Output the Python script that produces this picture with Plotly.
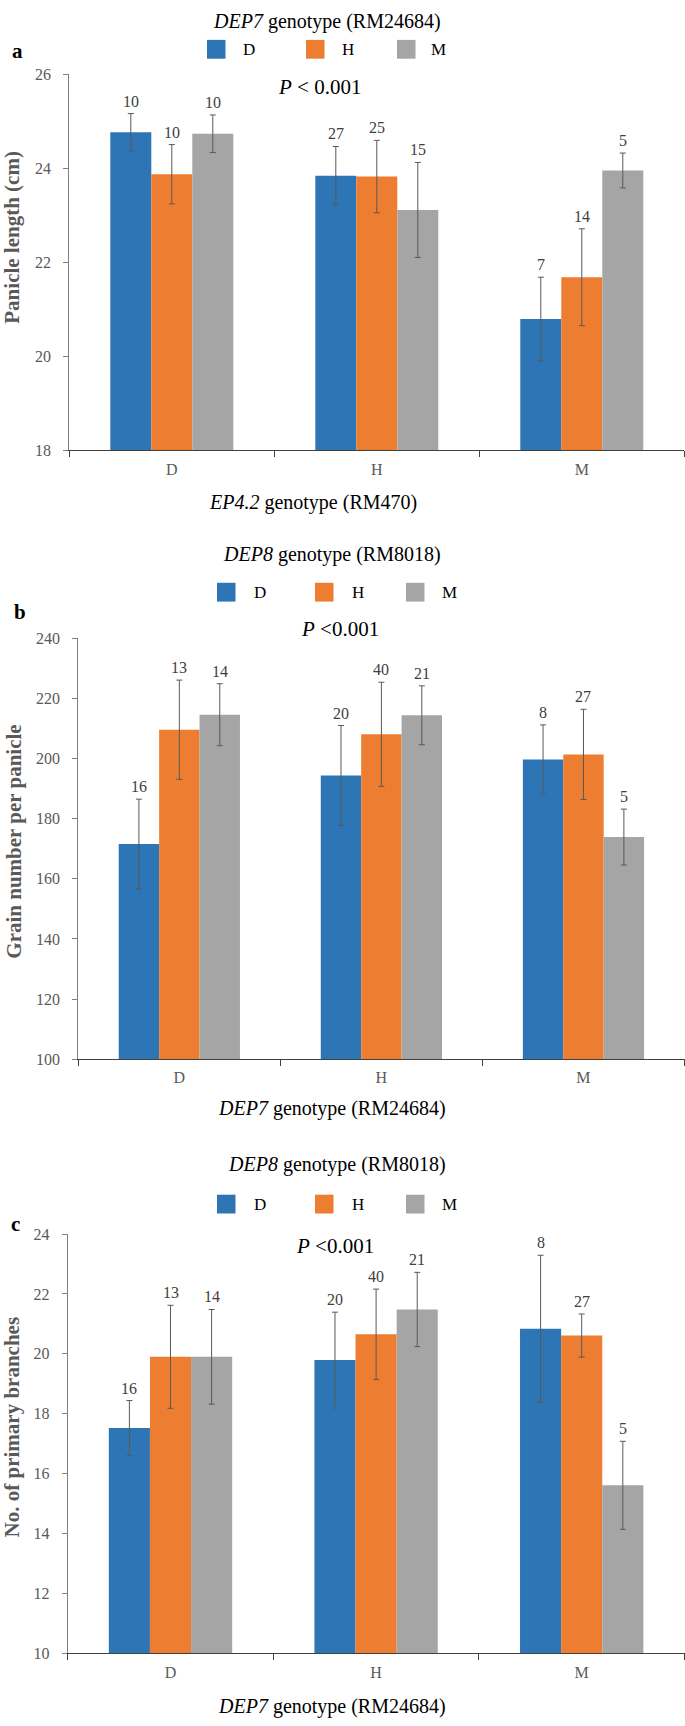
import plotly.graph_objects as go

W, H = 685, 1726
FONT = "Liberation Serif"

categories = ["D", "H", "M"]
series_names = ["D", "H", "M"]
colors = ["#2E75B6", "#ED7D31", "#A5A5A5"]

# Panel a: Panicle length (cm), by EP4.2 genotype (x) and DEP7 genotype (series)
a_D = [24.76, 23.84, 20.79]
a_H = [23.87, 23.82, 21.68]
a_M = [24.73, 23.11, 23.95]
a_D_err = [0.40, 0.62, 0.89]
a_H_err = [0.63, 0.77, 1.03]
a_M_err = [0.40, 1.01, 0.37]
a_D_n = [10, 27, 7]
a_H_n = [10, 25, 14]
a_M_n = [10, 15, 5]

# Panel b: Grain number per panicle, by DEP7 genotype (x) and DEP8 genotype (series)
b_D = [171.6, 194.4, 199.7]
b_H = [209.6, 208.1, 201.4]
b_M = [214.6, 214.4, 173.9]
b_D_err = [14.9, 16.6, 11.5]
b_H_err = [16.5, 17.3, 15.0]
b_M_err = [10.3, 9.8, 9.3]
b_D_n = [16, 20, 8]
b_H_n = [13, 40, 27]
b_M_n = [14, 21, 5]

# Panel c: No. of primary branches, by DEP7 genotype (x) and DEP8 genotype (series)
c_D = [17.52, 19.79, 20.84]
c_H = [19.90, 20.65, 20.61]
c_M = [19.90, 21.48, 15.61]
c_D_err = [0.92, 1.60, 2.45]
c_H_err = [1.72, 1.51, 0.72]
c_M_err = [1.58, 1.24, 1.47]
c_D_n = [16, 20, 8]
c_H_n = [13, 40, 27]
c_M_n = [14, 21, 5]


def fx(x):
    return x / W


def fy(y):
    return 1 - y / H


panels = [
    dict(sfx="", means=[a_D, a_H, a_M], errs=[a_D_err, a_H_err, a_M_err], ns=[a_D_n, a_H_n, a_M_n],
         xd=(69.3, 684.3), yd=(66.7, 446.7), yr=[18, 26], dt=2,
         ytitle="Panicle length (cm)", yt_pos=(12, 232),
         title="<i>DEP7</i> genotype (RM24684)", t_pos=(327, 13.3),
         leg_y=41.7, leg_sq=[207, 306, 397], leg_tx=[249, 347.5, 438.5],
         letter="a", l_pos=(17, 43), p_text="<i>P</i> < 0.001", p_pos=(319, 80),
         xtitle="<i>EP4.2</i> genotype (RM470)", xt_pos=(313, 499)),
    dict(sfx="2", means=[b_D, b_H, b_M], errs=[b_D_err, b_H_err, b_M_err], ns=[b_D_n, b_H_n, b_M_n],
         xd=(78.3, 684.5), yd=(636.6, 1061.7), yr=[100, 240], dt=20,
         ytitle="Grain number per panicle", yt_pos=(14, 842),
         title="<i>DEP8</i> genotype (RM8018)", t_pos=(332, 551.7),
         leg_y=590, leg_sq=[217, 315, 406], leg_tx=[260, 358, 449],
         letter="b", l_pos=(20, 610), p_text="<i>P</i> <0.001", p_pos=(340, 626.7),
         xtitle="<i>DEP7</i> genotype (RM24684)", xt_pos=(332, 1111.7)),
    dict(sfx="3", means=[c_D, c_H, c_M], errs=[c_D_err, c_H_err, c_M_err], ns=[c_D_n, c_H_n, c_M_n],
         xd=(67.7, 684.5), yd=(1238.2, 1661.7), yr=[10, 24], dt=2,
         ytitle="No. of primary branches", yt_pos=(11.5, 1434),
         title="<i>DEP8</i> genotype (RM8018)", t_pos=(337, 1168.3),
         leg_y=1208, leg_sq=[217, 315, 406], leg_tx=[260, 358, 449],
         letter="c", l_pos=(15, 1228), p_text="<i>P</i> <0.001", p_pos=(335, 1250),
         xtitle="<i>DEP7</i> genotype (RM24684)", xt_pos=(332, 1715)),
]

fig = go.Figure()
annotations = []
shapes = []
layout_axes = {}

for p in panels:
    s = p["sfx"]
    xa, ya = "x" + s, "y" + s
    for j in range(3):
        fig.add_trace(go.Bar(
            x=categories, y=p["means"][j], name=series_names[j],
            marker=dict(color=colors[j], line=dict(width=0)),
            error_y=dict(type="data", array=p["errs"][j], color="#595959", thickness=1, width=3),
            xaxis=xa, yaxis=ya, showlegend=False, hoverinfo="skip",
        ))
        for i in range(3):
            annotations.append(dict(
                x=i + (j - 1) * 0.2, y=p["means"][j][i] + p["errs"][j][i], xref=xa, yref=ya,
                text=str(p["ns"][j][i]), showarrow=False, yanchor="bottom", yshift=2,
                font=dict(family=FONT, size=16, color="#404040")))
    layout_axes["xaxis" + s] = dict(
        domain=[fx(p["xd"][0]), fx(p["xd"][1])], anchor=ya, type="category",
        showline=True, linecolor="#404040", linewidth=1, ticks="outside", tickson="boundaries",
        ticklen=6, tickcolor="#404040", tickfont=dict(family=FONT, size=16, color="#595959"),
        showgrid=False, zeroline=False, ticklabelstandoff=4, fixedrange=True)
    layout_axes["yaxis" + s] = dict(
        domain=[fy(p["yd"][1]), fy(p["yd"][0])], anchor=xa, range=p["yr"], dtick=p["dt"],
        tick0=p["yr"][0], showline=True, linecolor="#808080", linewidth=1, ticks="outside",
        ticklen=5, tickcolor="#808080", tickfont=dict(family=FONT, size=16, color="#595959"),
        showgrid=False, zeroline=False, ticklabelstandoff=9, fixedrange=True)
    annotations.append(dict(x=fx(p["yt_pos"][0]), y=fy(p["yt_pos"][1]), xref="paper", yref="paper",
                            text="<b>" + p["ytitle"] + "</b>", textangle=-90, showarrow=False,
                            xanchor="center", yanchor="middle",
                            font=dict(family=FONT, size=21, color="#595959")))
    annotations.append(dict(x=fx(p["t_pos"][0]), y=fy(p["t_pos"][1]), xref="paper", yref="paper",
                            text=p["title"], showarrow=False, xanchor="center", yanchor="middle",
                            font=dict(family=FONT, size=20, color="#000000")))
    annotations.append(dict(x=fx(p["xt_pos"][0]), y=fy(p["xt_pos"][1]), xref="paper", yref="paper",
                            text=p["xtitle"], showarrow=False, xanchor="center", yanchor="middle",
                            font=dict(family=FONT, size=20, color="#000000")))
    annotations.append(dict(x=fx(p["p_pos"][0]), y=fy(p["p_pos"][1]), xref="paper", yref="paper",
                            text=p["p_text"], showarrow=False, xanchor="center", yanchor="middle",
                            font=dict(family=FONT, size=21, color="#000000")))
    annotations.append(dict(x=fx(p["l_pos"][0]), y=fy(p["l_pos"][1]), xref="paper", yref="paper",
                            text="<b>" + p["letter"] + "</b>", showarrow=False, xanchor="center",
                            yanchor="middle", font=dict(family=FONT, size=21, color="#000000")))
    for j in range(3):
        x0 = p["leg_sq"][j]
        shapes.append(dict(type="rect", xref="paper", yref="paper",
                           x0=fx(x0), x1=fx(x0 + 18.5), y0=fy(p["leg_y"] + 9.5), y1=fy(p["leg_y"] - 9.5),
                           fillcolor=colors[j], line=dict(width=0)))
        annotations.append(dict(x=fx(p["leg_tx"][j]), y=fy(p["leg_y"]), xref="paper", yref="paper",
                                text=series_names[j], showarrow=False, xanchor="center", yanchor="middle",
                                font=dict(family=FONT, size=17, color="#000000")))

fig.update_layout(
    width=W, height=H, margin=dict(l=0, r=0, t=0, b=0),
    paper_bgcolor="white", plot_bgcolor="white",
    barmode="group", bargap=0.4, bargroupgap=0,
    showlegend=False, annotations=annotations, shapes=shapes, hovermode=False,
    **layout_axes,
)

fig.write_html("out.html", config={"displayModeBar": False, "staticPlot": True},
               post_script="document.body.style.margin='0';document.body.style.padding='0';")
